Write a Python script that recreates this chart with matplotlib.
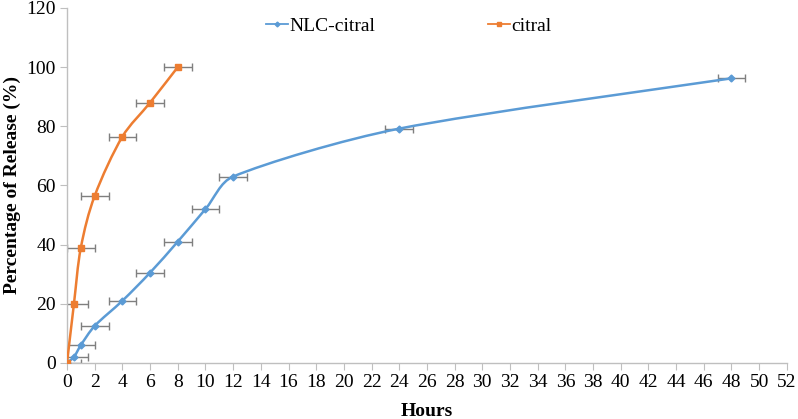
import numpy as np
import matplotlib
matplotlib.use("Agg")
import matplotlib.pyplot as plt
from matplotlib.path import Path
from matplotlib.patches import PathPatch

plt.rcParams['font.family'] = ['Liberation Serif', 'DejaVu Serif']

nlc_hours = [0, 0.5, 1, 2, 4, 6, 8, 10, 12, 24, 48]
nlc_release = [0, 2, 6, 12.5, 21, 30.5, 41, 52, 63, 79.2, 96.2]
nlc_xerr = [1, 1, 1, 1, 1, 1, 1, 1, 1, 1, 1]

citral_hours = [0, 0.5, 1, 2, 4, 6, 8]
citral_release = [0, 20, 39, 56.5, 76.5, 88, 100]
citral_xerr = [0, 1, 1, 1, 1, 1, 1]

blue = '#5b9bd5'
orange = '#ed7d31'
grey = '#7f7f7f'

fig = plt.figure(figsize=(7.98, 4.19), dpi=100)
ax = fig.add_axes([0.084, 0.134, 0.902, 0.847])
ax.set_xlim(0, 52)
ax.set_ylim(0, 120)


def smooth_path(xs, ys):
    # Excel-like smoothed line: cubic Bezier, tangents capped in display space
    pts = ax.transData.transform(np.column_stack([xs, ys]).astype(float))
    n = len(pts)
    verts = [pts[0]]
    codes = [Path.MOVETO]
    for i in range(n - 1):
        p0 = pts[i - 1] if i > 0 else pts[i]
        p1 = pts[i]
        p2 = pts[i + 1]
        p3 = pts[i + 2] if i + 2 < n else pts[i + 1]
        seg = np.hypot(*(p2 - p1))
        t1 = (p2 - p0) / 6.0
        t2 = (p3 - p1) / 6.0
        lim = seg / 3.0
        for t in (t1, t2):
            L = np.hypot(*t)
            if L > lim and L > 0:
                t *= lim / L
        verts += [p1 + t1, p2 - t2, p2]
        codes += [Path.CURVE4] * 3
    disp = np.array(verts)
    data = ax.transData.inverted().transform(disp)
    return Path(data, codes)


for xs, ys, xe, col, mk, ms, lab in [
    (nlc_hours, nlc_release, nlc_xerr, blue, 'D', 3.5, 'NLC-citral'),
    (citral_hours, citral_release, citral_xerr, orange, 's', 5, 'citral'),
]:
    ax.add_patch(PathPatch(smooth_path(xs, ys), fill=False, edgecolor=col, lw=1.8, zorder=3))
    ax.errorbar(xs, ys, xerr=xe, fmt='none', ecolor=grey, elinewidth=1.0, capsize=3, capthick=1.0, zorder=2)
    ax.plot(xs, ys, linestyle='none', marker=mk, markersize=ms, color=col, zorder=4)
    ax.plot([], [], color=col, lw=1.3, marker=mk, markersize=ms * 0.7, label=lab)

ax.set_xticks(np.arange(0, 53, 2))
ax.set_yticks(np.arange(0, 121, 20))
for s in ['top', 'right']:
    ax.spines[s].set_visible(False)
for s in ['left', 'bottom']:
    ax.spines[s].set_color('#bfbfbf')
    ax.spines[s].set_linewidth(1.0)
ax.tick_params(axis='both', direction='out', color='#bfbfbf', length=5, labelsize=14, pad=3)
ax.set_xlabel('Hours', fontsize=14, fontweight='bold', labelpad=9)
ax.set_ylabel('Percentage of Release (%)', fontsize=14, fontweight='bold', labelpad=4)

leg = ax.legend(loc='center', bbox_to_anchor=(0.475, 0.95), ncol=2, frameon=False,
                fontsize=14, columnspacing=5.8, handlelength=1.1, handletextpad=0.1,
                borderpad=0, borderaxespad=0)

fig.savefig('out.png', dpi=100)
